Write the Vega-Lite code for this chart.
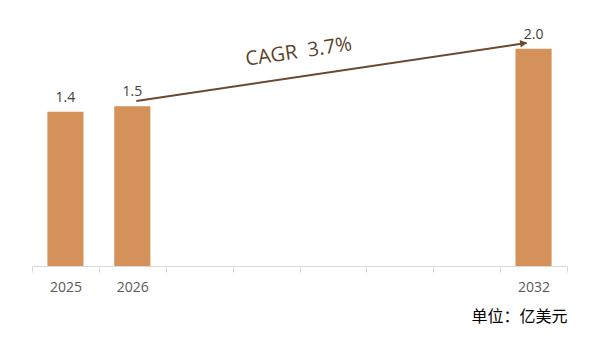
{
  "$schema": "https://vega.github.io/schema/vega-lite/v6.json",
  "autosize": "none",
  "width": 535,
  "height": 239,
  "padding": {"left": 32, "top": 27, "right": 37, "bottom": 83},
  "background": "white",
  "config": {"view": {"stroke": null}},
  "layer": [
    {
      "data": {"values": [
        {"year": "2025", "value": 1.42},
        {"year": "2026", "value": 1.47},
        {"year": "2032", "value": 2.0}
      ]},
      "layer": [
        {
          "mark": {"type": "bar", "color": "#D5915A", "width": {"band": 0.54}},
          "encoding": {
            "x": {
              "field": "year", "type": "nominal",
              "scale": {"domain": ["2025","2026","2027","2028","2029","2030","2031","2032"], "paddingInner": 0, "paddingOuter": 0},
              "axis": {
                "title": "单位：亿美元",
                "titleFont": "Noto Sans CJK SC",
                "titleFontSize": 16,
                "titleFontWeight": "normal",
                "titleColor": "#000000",
                "titleAnchor": "end",
                "titlePadding": 14,
                "labelAngle": 0,
                "labelFont": "Open Sans",
                "labelFontSize": 14,
                "labelColor": "#595959",
                "labelPadding": 8,
                "labelExpr": "indexof(['2025','2026','2032'], datum.label) >= 0 ? datum.label : ''",
                "domainColor": "#D9D9D9",
                "tickColor": "#D9D9D9",
                "tickSize": 6,
                "tickBand": "extent"
              }
            },
            "y": {"field": "value", "type": "quantitative", "scale": {"domain": [0, 2.2]}, "axis": null}
          }
        },
        {
          "mark": {"type": "text", "dy": -14, "font": "Open Sans", "fontSize": 14, "color": "#404040"},
          "encoding": {
            "x": {"field": "year", "type": "nominal"},
            "y": {"field": "value", "type": "quantitative"},
            "text": {"field": "value", "type": "quantitative", "format": ".1f"}
          }
        }
      ]
    },
    {
      "data": {"values": [{"x1": "2026", "x2": "2032", "y1": 1.519, "y2": 2.053, "ya": 2.05}]},
      "layer": [
        {
          "mark": {"type": "rule", "color": "#6B4830", "strokeWidth": 2},
          "encoding": {
            "x": {"field": "x1", "type": "nominal", "bandPosition": 0.56},
            "x2": {"field": "x2", "bandPosition": 0.395},
            "y": {"field": "y1", "type": "quantitative"},
            "y2": {"field": "y2"}
          }
        },
        {
          "mark": {"type": "point", "shape": "triangle-right", "filled": true, "color": "#6B4830", "size": 60, "angle": -8.4, "opacity": 1},
          "encoding": {
            "x": {"field": "x2", "type": "nominal", "bandPosition": 0.35},
            "y": {"field": "ya", "type": "quantitative"}
          }
        }
      ]
    },
    {
      "data": {"values": [{"x": "2028", "y": 1.925, "label": "CAGR\u00a0 3.7%"}]},
      "mark": {"type": "text", "font": "Open Sans", "fontSize": 20, "color": "#5E3F28", "angle": -8.4, "dx": 33, "align": "center", "baseline": "middle"},
      "encoding": {
        "x": {"field": "x", "type": "nominal"},
        "y": {"field": "y", "type": "quantitative"},
        "text": {"field": "label"}
      }
    }
  ]
}
